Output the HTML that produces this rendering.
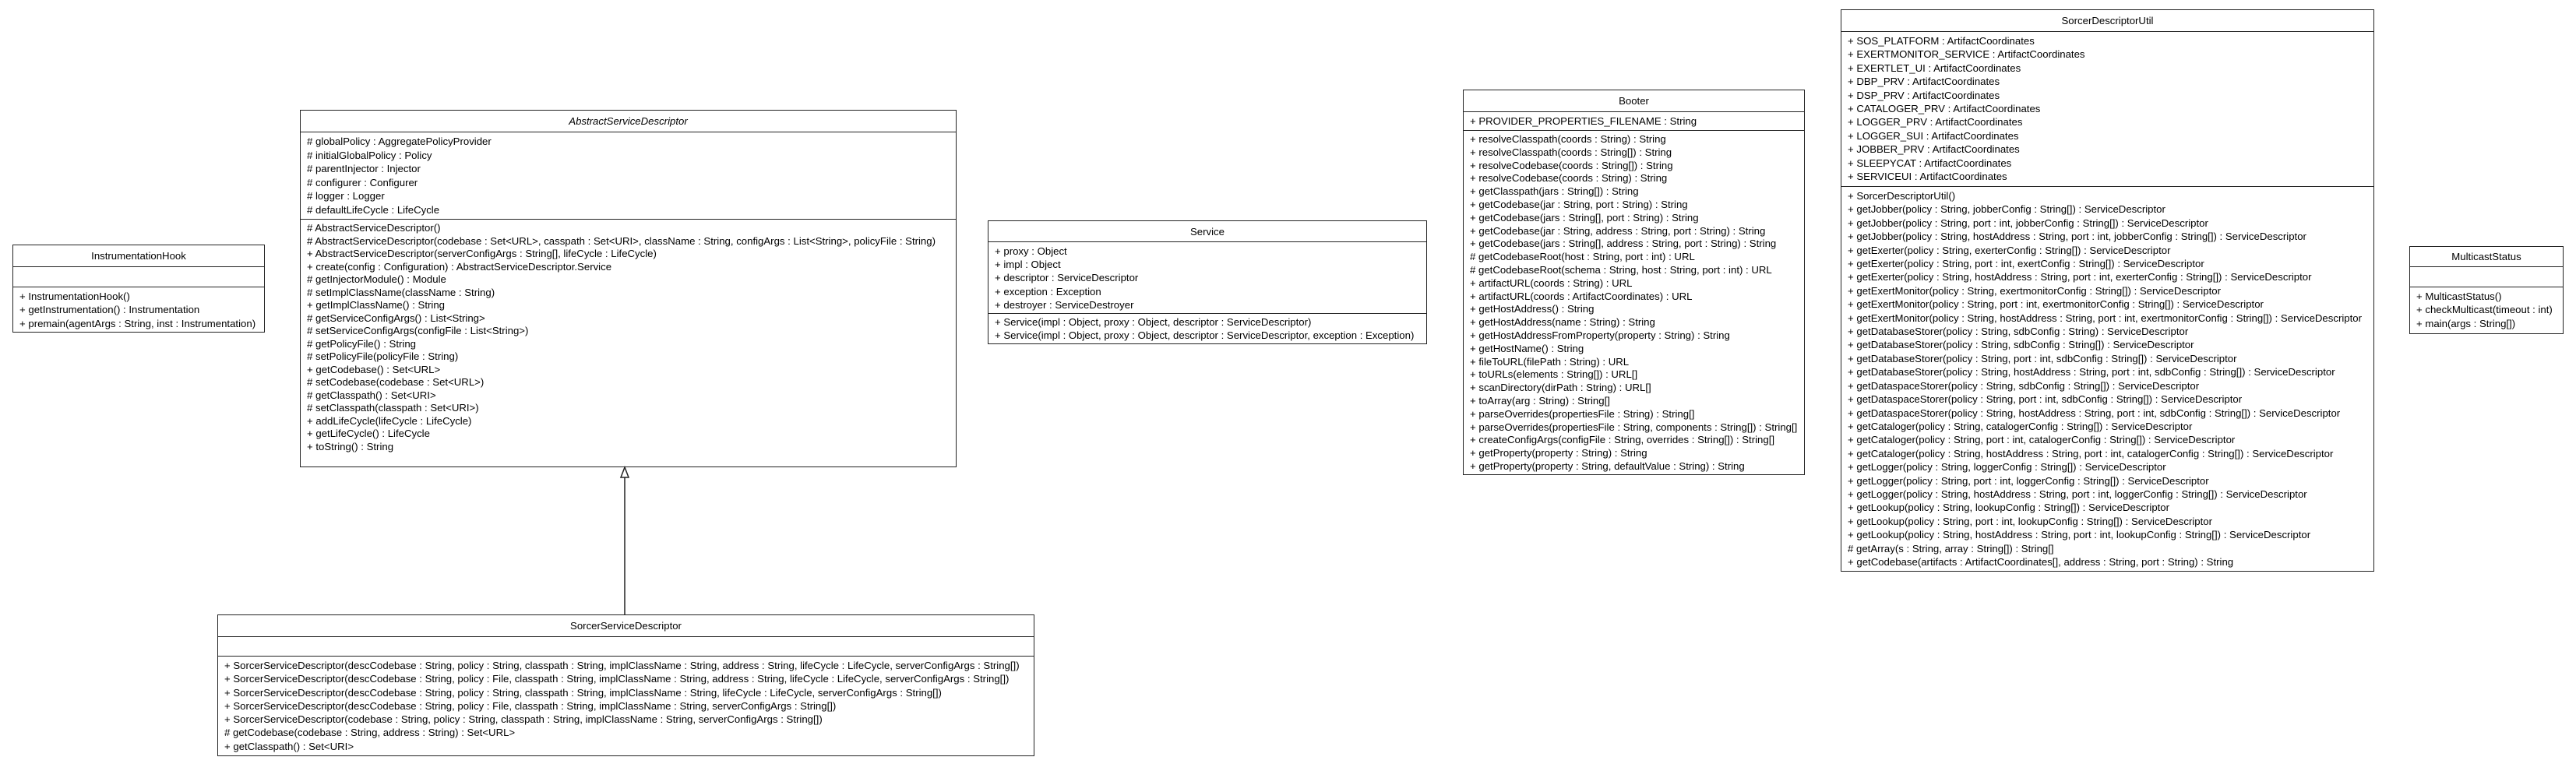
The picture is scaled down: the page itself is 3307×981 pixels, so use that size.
<!DOCTYPE html>
<html><head><meta charset="utf-8"><style>
html,body{margin:0;padding:0;background:#fff;}
body{width:3307px;height:981px;position:relative;overflow:hidden;font-family:"Liberation Sans",Arial,sans-serif;font-size:13.2px;color:#000;}
.b{position:absolute;border:1.5px solid #222;box-sizing:border-box;background:#fff;}
.t{box-sizing:border-box;text-align:center;white-space:nowrap;display:flex;align-items:center;justify-content:center;}
.c{box-sizing:border-box;border-top:1.5px solid #222;padding:3px 0 0 8px;white-space:nowrap;overflow:hidden;}
.c div{white-space:nowrap;}
</style></head><body>

<!-- InstrumentationHook -->
<div class="b" style="left:16px;top:314px;width:324px;height:113px;">
 <div class="t" style="height:27px;">InstrumentationHook</div>
 <div class="c" style="height:26px;"></div>
 <div class="c" style="height:57px;line-height:17.3px;">
  <div>+ InstrumentationHook()</div>
  <div>+ getInstrumentation() : Instrumentation</div>
  <div>+ premain(agentArgs : String, inst : Instrumentation)</div>
 </div>
</div>

<!-- AbstractServiceDescriptor -->
<div class="b" style="left:385px;top:141px;width:843px;height:459px;">
 <div class="t" style="height:27px;font-style:italic;">AbstractServiceDescriptor</div>
 <div class="c" style="height:112px;line-height:17.5px;">
  <div># globalPolicy : AggregatePolicyProvider</div>
  <div># initialGlobalPolicy : Policy</div>
  <div># parentInjector : Injector</div>
  <div># configurer : Configurer</div>
  <div># logger : Logger</div>
  <div># defaultLifeCycle : LifeCycle</div>
 </div>
 <div class="c" style="height:317px;line-height:16.5px;">
  <div># AbstractServiceDescriptor()</div>
  <div># AbstractServiceDescriptor(codebase : Set&lt;URL&gt;, casspath : Set&lt;URI&gt;, className : String, configArgs : List&lt;String&gt;, policyFile : String)</div>
  <div>+ AbstractServiceDescriptor(serverConfigArgs : String[], lifeCycle : LifeCycle)</div>
  <div>+ create(config : Configuration) : AbstractServiceDescriptor.Service</div>
  <div># getInjectorModule() : Module</div>
  <div># setImplClassName(className : String)</div>
  <div>+ getImplClassName() : String</div>
  <div># getServiceConfigArgs() : List&lt;String&gt;</div>
  <div># setServiceConfigArgs(configFile : List&lt;String&gt;)</div>
  <div># getPolicyFile() : String</div>
  <div># setPolicyFile(policyFile : String)</div>
  <div>+ getCodebase() : Set&lt;URL&gt;</div>
  <div># setCodebase(codebase : Set&lt;URL&gt;)</div>
  <div># getClasspath() : Set&lt;URI&gt;</div>
  <div># setClasspath(classpath : Set&lt;URI&gt;)</div>
  <div>+ addLifeCycle(lifeCycle : LifeCycle)</div>
  <div>+ getLifeCycle() : LifeCycle</div>
  <div>+ toString() : String</div>
 </div>
</div>

<!-- generalization arrow -->
<svg style="position:absolute;left:0;top:0;" width="3307" height="981">
 <line x1="802" y1="613" x2="802" y2="789" stroke="#222" stroke-width="1.5"/>
 <polygon points="802,600 797,613 807,613" fill="#fff" stroke="#222" stroke-width="1.5"/>
</svg>

<!-- SorcerServiceDescriptor -->
<div class="b" style="left:279px;top:789px;width:1049px;height:182px;">
 <div class="t" style="height:27px;">SorcerServiceDescriptor</div>
 <div class="c" style="height:25px;"></div>
 <div class="c" style="height:127px;line-height:17.3px;">
  <div>+ SorcerServiceDescriptor(descCodebase : String, policy : String, classpath : String, implClassName : String, address : String, lifeCycle : LifeCycle, serverConfigArgs : String[])</div>
  <div>+ SorcerServiceDescriptor(descCodebase : String, policy : File, classpath : String, implClassName : String, address : String, lifeCycle : LifeCycle, serverConfigArgs : String[])</div>
  <div>+ SorcerServiceDescriptor(descCodebase : String, policy : String, classpath : String, implClassName : String, lifeCycle : LifeCycle, serverConfigArgs : String[])</div>
  <div>+ SorcerServiceDescriptor(descCodebase : String, policy : File, classpath : String, implClassName : String, serverConfigArgs : String[])</div>
  <div>+ SorcerServiceDescriptor(codebase : String, policy : String, classpath : String, implClassName : String, serverConfigArgs : String[])</div>
  <div># getCodebase(codebase : String, address : String) : Set&lt;URL&gt;</div>
  <div>+ getClasspath() : Set&lt;URI&gt;</div>
 </div>
</div>

<!-- Service -->
<div class="b" style="left:1268px;top:283px;width:564px;height:159px;">
 <div class="t" style="height:26px;">Service</div>
 <div class="c" style="height:92px;line-height:17.2px;">
  <div>+ proxy : Object</div>
  <div>+ impl : Object</div>
  <div>+ descriptor : ServiceDescriptor</div>
  <div>+ exception : Exception</div>
  <div>+ destroyer : ServiceDestroyer</div>
 </div>
 <div class="c" style="height:38px;line-height:16.5px;">
  <div>+ Service(impl : Object, proxy : Object, descriptor : ServiceDescriptor)</div>
  <div>+ Service(impl : Object, proxy : Object, descriptor : ServiceDescriptor, exception : Exception)</div>
 </div>
</div>

<!-- Booter -->
<div class="b" style="left:1878px;top:115px;width:439px;height:495px;">
 <div class="t" style="height:27px;">Booter</div>
 <div class="c" style="height:24px;line-height:17px;">
  <div>+ PROVIDER_PROPERTIES_FILENAME : String</div>
 </div>
 <div class="c" style="height:442px;line-height:16.8px;">
  <div>+ resolveClasspath(coords : String) : String</div>
  <div>+ resolveClasspath(coords : String[]) : String</div>
  <div>+ resolveCodebase(coords : String[]) : String</div>
  <div>+ resolveCodebase(coords : String) : String</div>
  <div>+ getClasspath(jars : String[]) : String</div>
  <div>+ getCodebase(jar : String, port : String) : String</div>
  <div>+ getCodebase(jars : String[], port : String) : String</div>
  <div>+ getCodebase(jar : String, address : String, port : String) : String</div>
  <div>+ getCodebase(jars : String[], address : String, port : String) : String</div>
  <div># getCodebaseRoot(host : String, port : int) : URL</div>
  <div># getCodebaseRoot(schema : String, host : String, port : int) : URL</div>
  <div>+ artifactURL(coords : String) : URL</div>
  <div>+ artifactURL(coords : ArtifactCoordinates) : URL</div>
  <div>+ getHostAddress() : String</div>
  <div>+ getHostAddress(name : String) : String</div>
  <div>+ getHostAddressFromProperty(property : String) : String</div>
  <div>+ getHostName() : String</div>
  <div>+ fileToURL(filePath : String) : URL</div>
  <div>+ toURLs(elements : String[]) : URL[]</div>
  <div>+ scanDirectory(dirPath : String) : URL[]</div>
  <div>+ toArray(arg : String) : String[]</div>
  <div>+ parseOverrides(propertiesFile : String) : String[]</div>
  <div>+ parseOverrides(propertiesFile : String, components : String[]) : String[]</div>
  <div>+ createConfigArgs(configFile : String, overrides : String[]) : String[]</div>
  <div>+ getProperty(property : String) : String</div>
  <div>+ getProperty(property : String, defaultValue : String) : String</div>
 </div>
</div>

<!-- SorcerDescriptorUtil -->
<div class="b" style="left:2363px;top:12px;width:685px;height:722px;">
 <div class="t" style="height:27px;">SorcerDescriptorUtil</div>
 <div class="c" style="height:199px;line-height:17.4px;">
  <div>+ SOS_PLATFORM : ArtifactCoordinates</div>
  <div>+ EXERTMONITOR_SERVICE : ArtifactCoordinates</div>
  <div>+ EXERTLET_UI : ArtifactCoordinates</div>
  <div>+ DBP_PRV : ArtifactCoordinates</div>
  <div>+ DSP_PRV : ArtifactCoordinates</div>
  <div>+ CATALOGER_PRV : ArtifactCoordinates</div>
  <div>+ LOGGER_PRV : ArtifactCoordinates</div>
  <div>+ LOGGER_SUI : ArtifactCoordinates</div>
  <div>+ JOBBER_PRV : ArtifactCoordinates</div>
  <div>+ SLEEPYCAT : ArtifactCoordinates</div>
  <div>+ SERVICEUI : ArtifactCoordinates</div>
 </div>
 <div class="c" style="height:494px;line-height:17.4px;">
  <div>+ SorcerDescriptorUtil()</div>
  <div>+ getJobber(policy : String, jobberConfig : String[]) : ServiceDescriptor</div>
  <div>+ getJobber(policy : String, port : int, jobberConfig : String[]) : ServiceDescriptor</div>
  <div>+ getJobber(policy : String, hostAddress : String, port : int, jobberConfig : String[]) : ServiceDescriptor</div>
  <div>+ getExerter(policy : String, exerterConfig : String[]) : ServiceDescriptor</div>
  <div>+ getExerter(policy : String, port : int, exertConfig : String[]) : ServiceDescriptor</div>
  <div>+ getExerter(policy : String, hostAddress : String, port : int, exerterConfig : String[]) : ServiceDescriptor</div>
  <div>+ getExertMonitor(policy : String, exertmonitorConfig : String[]) : ServiceDescriptor</div>
  <div>+ getExertMonitor(policy : String, port : int, exertmonitorConfig : String[]) : ServiceDescriptor</div>
  <div>+ getExertMonitor(policy : String, hostAddress : String, port : int, exertmonitorConfig : String[]) : ServiceDescriptor</div>
  <div>+ getDatabaseStorer(policy : String, sdbConfig : String) : ServiceDescriptor</div>
  <div>+ getDatabaseStorer(policy : String, sdbConfig : String[]) : ServiceDescriptor</div>
  <div>+ getDatabaseStorer(policy : String, port : int, sdbConfig : String[]) : ServiceDescriptor</div>
  <div>+ getDatabaseStorer(policy : String, hostAddress : String, port : int, sdbConfig : String[]) : ServiceDescriptor</div>
  <div>+ getDataspaceStorer(policy : String, sdbConfig : String[]) : ServiceDescriptor</div>
  <div>+ getDataspaceStorer(policy : String, port : int, sdbConfig : String[]) : ServiceDescriptor</div>
  <div>+ getDataspaceStorer(policy : String, hostAddress : String, port : int, sdbConfig : String[]) : ServiceDescriptor</div>
  <div>+ getCataloger(policy : String, catalogerConfig : String[]) : ServiceDescriptor</div>
  <div>+ getCataloger(policy : String, port : int, catalogerConfig : String[]) : ServiceDescriptor</div>
  <div>+ getCataloger(policy : String, hostAddress : String, port : int, catalogerConfig : String[]) : ServiceDescriptor</div>
  <div>+ getLogger(policy : String, loggerConfig : String[]) : ServiceDescriptor</div>
  <div>+ getLogger(policy : String, port : int, loggerConfig : String[]) : ServiceDescriptor</div>
  <div>+ getLogger(policy : String, hostAddress : String, port : int, loggerConfig : String[]) : ServiceDescriptor</div>
  <div>+ getLookup(policy : String, lookupConfig : String[]) : ServiceDescriptor</div>
  <div>+ getLookup(policy : String, port : int, lookupConfig : String[]) : ServiceDescriptor</div>
  <div>+ getLookup(policy : String, hostAddress : String, port : int, lookupConfig : String[]) : ServiceDescriptor</div>
  <div># getArray(s : String, array : String[]) : String[]</div>
  <div>+ getCodebase(artifacts : ArtifactCoordinates[], address : String, port : String) : String</div>
 </div>
</div>

<!-- MulticastStatus -->
<div class="b" style="left:3093px;top:316px;width:198px;height:113px;">
 <div class="t" style="height:25px;">MulticastStatus</div>
 <div class="c" style="height:26px;"></div>
 <div class="c" style="height:59px;line-height:17.3px;">
  <div>+ MulticastStatus()</div>
  <div>+ checkMulticast(timeout : int)</div>
  <div>+ main(args : String[])</div>
 </div>
</div>

</body></html>
